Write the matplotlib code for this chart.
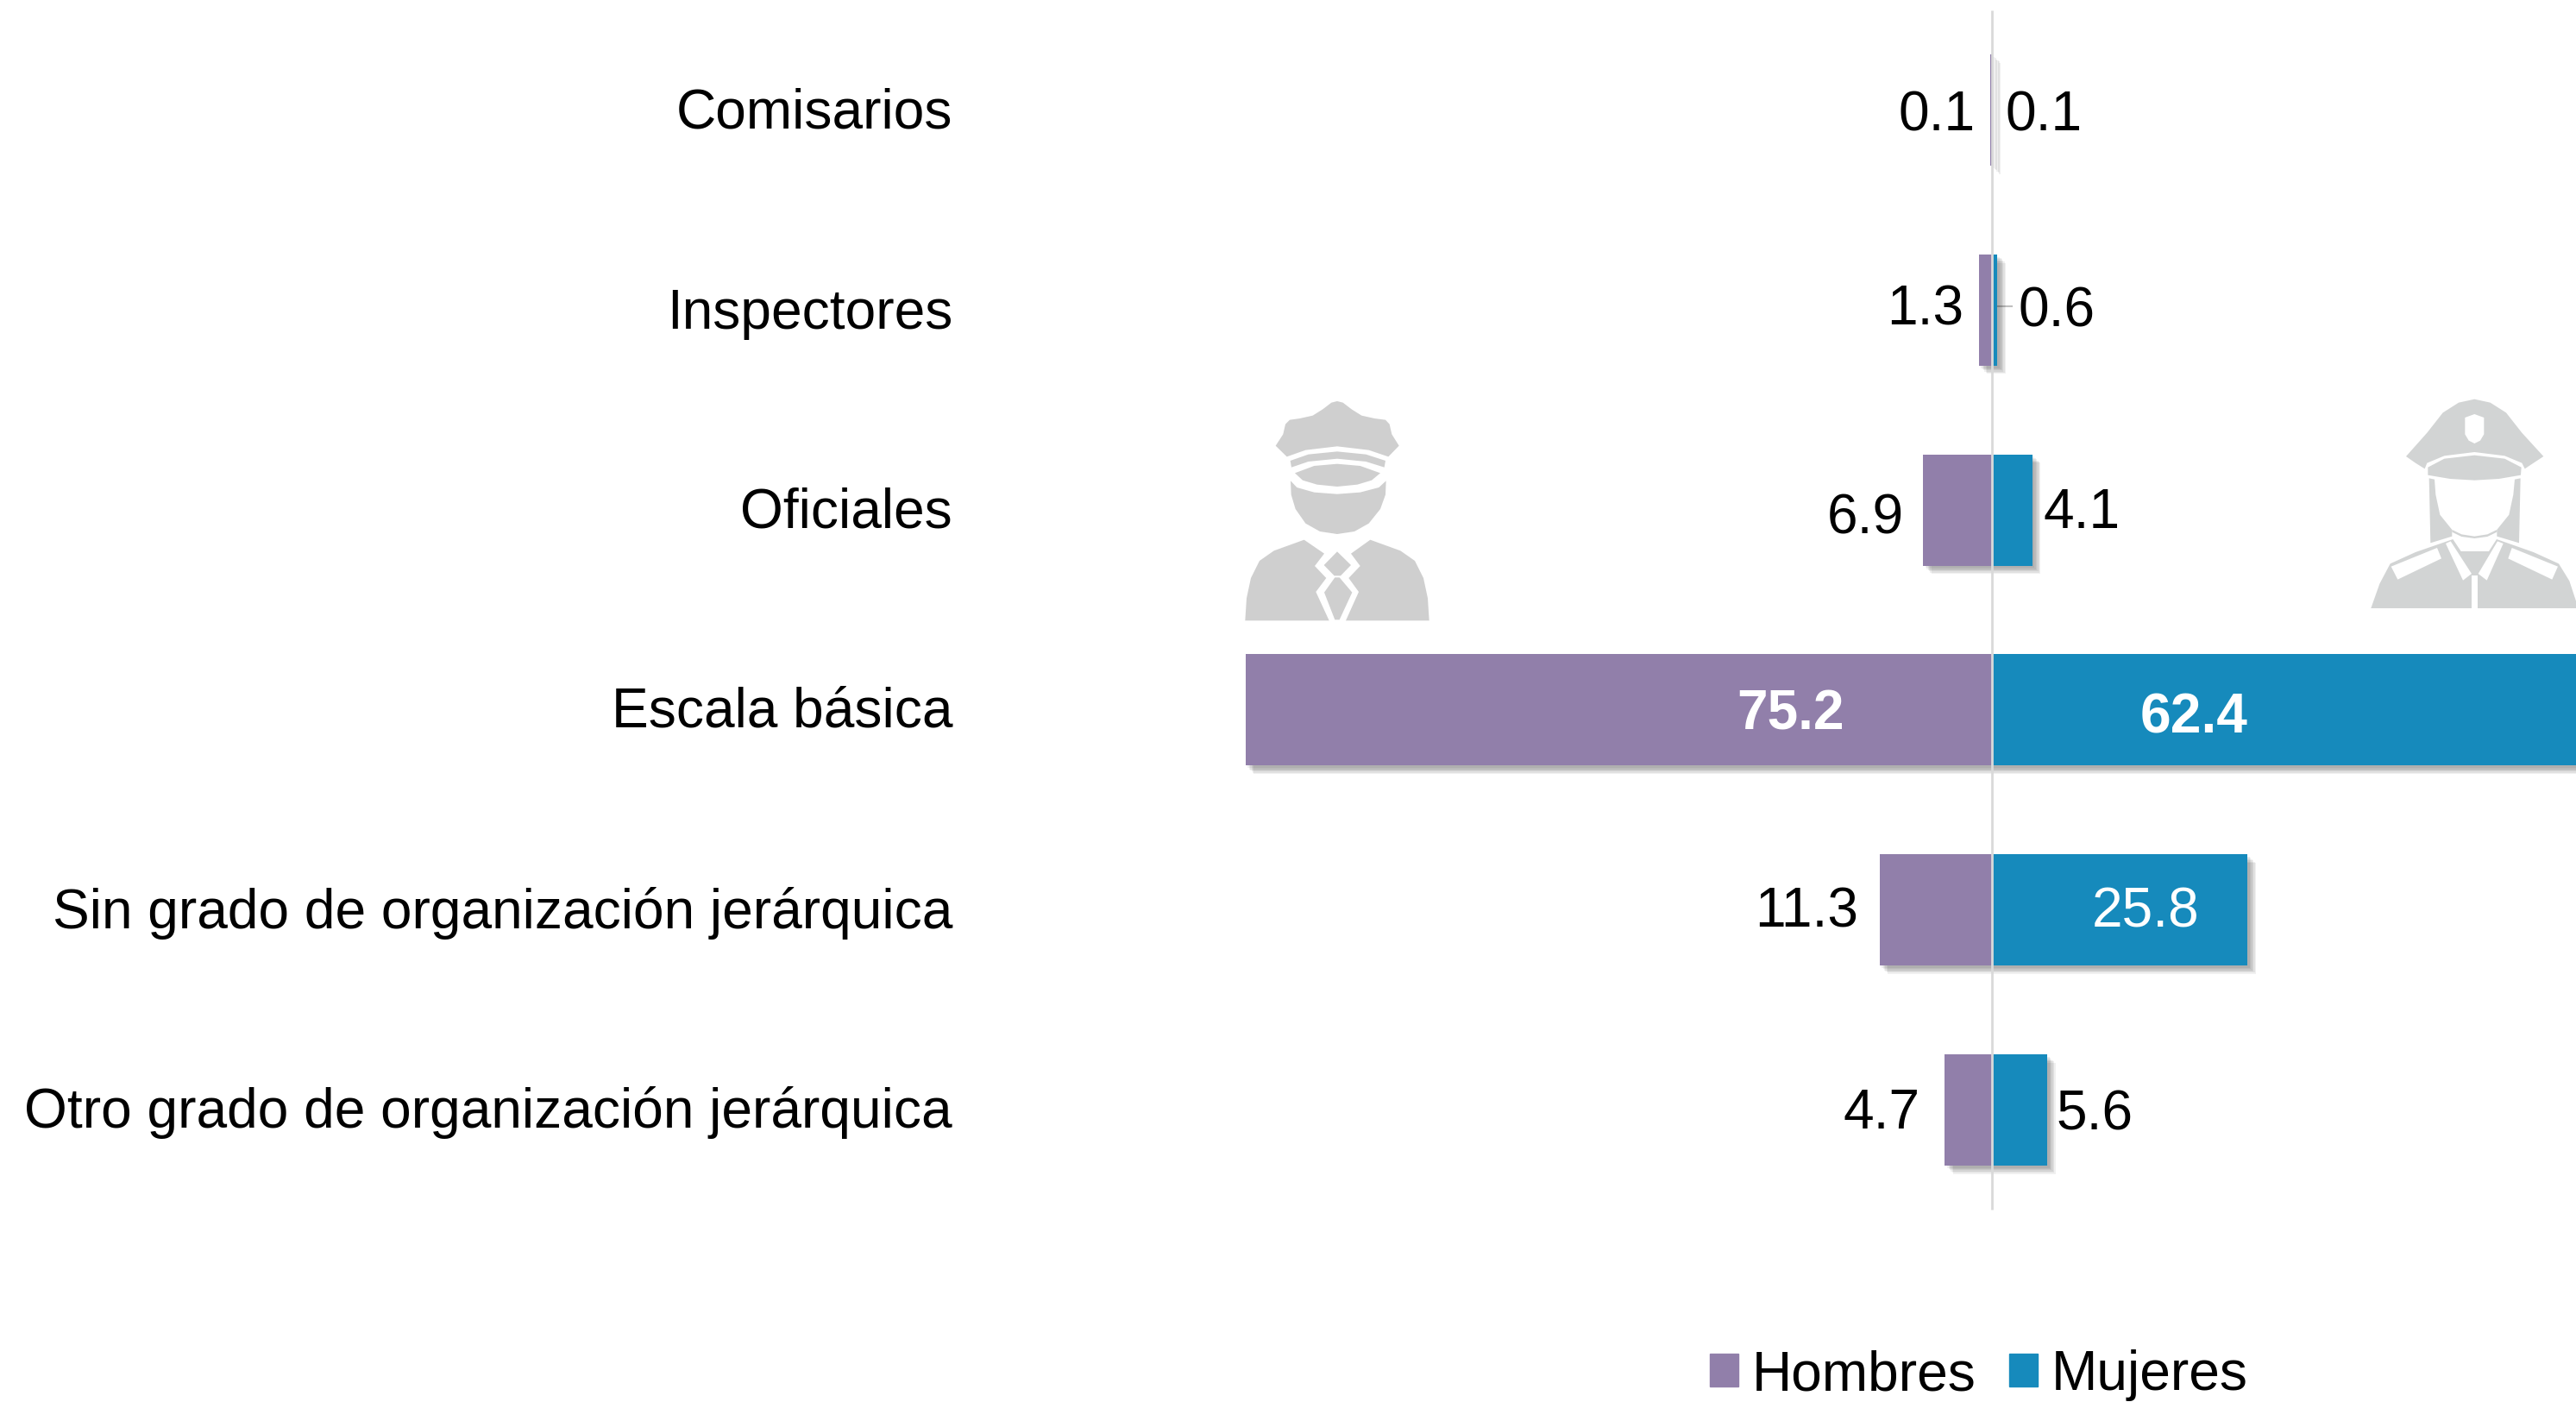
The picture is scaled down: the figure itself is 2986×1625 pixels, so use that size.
import matplotlib
matplotlib.use('Agg')
import matplotlib.pyplot as plt
import matplotlib.patheffects as pe
from matplotlib.patches import Patch, Polygon
from matplotlib.transforms import Affine2D

# data
categorias = ['Comisarios', 'Inspectores', 'Oficiales', 'Escala básica',
              'Sin grado de organización jerárquica',
              'Otro grado de organización jerárquica']
hombres = [0.1, 1.3, 6.9, 75.2, 11.3, 4.7]
mujeres = [0.1, 0.6, 4.1, 62.4, 25.8, 5.6]

W, H = 2986, 1625
PURPLE = '#917FAA'
BLUE = '#168ABC'
GRID = '#D9D9D9'
FS = 46.1

# label offsets in pixels from the end of each bar
h_dx = [-18, -17, -22, 632, -24, -29]
h_dy = [-7, 0, -10, -6, -3, -4]
h_ha = ['right', 'right', 'right', 'center', 'right', 'right']
m_dx = [15, 24, 13, -483, -118, 11]
m_dy = [-7, -2, -4, -10, -3, -6]
m_ha = ['left', 'left', 'left', 'center', 'center', 'left']
cat_dy = [2, 3, 1, 1, 2, 1]

plt.rcParams['font.family'] = ['Liberation Sans', 'DejaVu Sans']

fig = plt.figure(figsize=(W / 100, H / 100), dpi=100)
ax = fig.add_axes([0, 0, 1, 1])

# 0 sits at x=2308.5, 11.5 px per unit, rows are 231.8 px apart
ax.set_xlim(-2308.5 / 11.5, (W - 2308.5) / 11.5)
ax.set_ylim((H - 127.5) / 231.8, -127.5 / 231.8)
ax.axis('off')

y = list(range(len(categorias)))
shadow = [pe.SimplePatchShadow(offset=(o, -o), shadow_rgbFace='black', alpha=0.06)
          for o in (7.0, 6.0, 5.0, 4.0, 3.0, 2.0)] + [pe.Normal()]

ax.barh(y, [-v for v in hombres], height=0.556, color=PURPLE, path_effects=shadow, zorder=2)
ax.barh(y, mujeres, height=0.556, color=BLUE, path_effects=shadow, zorder=3)
ax.plot([0, 0], [-0.5, 5.5], color=GRID, lw=2, zorder=4, solid_capstyle='butt')

# leader line of the 0.6 label
ax.plot([0.6, 2.0], [0.98, 0.98], color='#BFBFBF', lw=1.5, zorder=1)

for i, cat in enumerate(categorias):
    ax.annotate(cat, xy=(0, i), xycoords='data', xytext=(1104 - 2308.5, -cat_dy[i] - 2),
                textcoords='offset pixels', ha='right', va='center', fontsize=FS, color='black')

for i, v in enumerate(hombres):
    inside = h_ha[i] == 'center'
    ax.annotate(f'{v:.1f}', xy=(-v, i), xytext=(h_dx[i], h_dy[i]), textcoords='offset pixels',
                ha=h_ha[i], va='center', fontsize=FS, zorder=5, annotation_clip=False,
                color='white' if inside else 'black',
                fontweight='bold' if inside else 'normal')

for i, v in enumerate(mujeres):
    inside = m_ha[i] == 'center'
    ax.annotate(f'{v:.1f}', xy=(v, i), xytext=(m_dx[i], m_dy[i]), textcoords='offset pixels',
                ha=m_ha[i], va='center', fontsize=FS, zorder=5, annotation_clip=False,
                color='white' if inside else 'black',
                fontweight='bold' if v > 50 else 'normal')

handles = [Patch(color=PURPLE, label='Hombres'), Patch(color=BLUE, label='Mujeres')]
fig.legend(handles=handles, loc='center', bbox_to_anchor=(2294 / W, 1 - 1594 / H), ncol=2,
           frameon=False, fontsize=FS, borderpad=0, handlelength=0.51, handleheight=0.53,
           handletextpad=0.25, columnspacing=0.61)


# icons, outlined in pixels of a 3x crop of the picture
def icon(points, ox, oy, color):
    px = [(ox + a / 3, oy + b / 3) for a, b in points]
    tr = Affine2D().scale(1 / W, -1 / H).translate(0, 1) + fig.transFigure
    fig.add_artist(Polygon(px, closed=True, fc=color, ec='none', transform=tr))


GRAY1 = '#CFCFCF'
man = [
    [(450, 75), (430, 80), (400, 103), (365, 125), (320, 135), (285, 140), (270, 155), (262, 190),
     (236, 230), (275, 268), (340, 245), (450, 232), (560, 245), (628, 268), (665, 230), (640, 190),
     (632, 155), (618, 140), (580, 135), (535, 125), (500, 103), (470, 80)],
    [(287, 282), (350, 260), (450, 250), (550, 260), (618, 282), (614, 305), (550, 285), (450, 275),
     (350, 285), (291, 305)],
    [(303, 325), (370, 300), (450, 293), (530, 300), (600, 325), (570, 350), (520, 365), (450, 372),
     (380, 365), (330, 350)],
    [(288, 352), (310, 375), (370, 392), (450, 398), (530, 392), (595, 375), (620, 352), (618, 400),
     (600, 450), (560, 500), (510, 528), (450, 537), (390, 528), (340, 500), (305, 450), (290, 400)],
    [(335, 557), (405, 605), (372, 648), (412, 690), (376, 738), (422, 838), (130, 838), (135, 760),
     (150, 690), (180, 630), (230, 595)],
    [(565, 557), (498, 605), (530, 648), (490, 690), (525, 738), (480, 838), (770, 838), (765, 760),
     (750, 690), (720, 630), (670, 595)],
    [(450, 598), (498, 645), (462, 682), (440, 682), (404, 645)],
    [(442, 688), (458, 688), (502, 740), (458, 835), (442, 835), (405, 740)],
]
for shape in man:
    icon(shape, 1400, 440, GRAY1)

GRAY2 = '#D2D4D4'
woman = [
    [(445, 68), (390, 80), (335, 115), (280, 185), (207, 267), (240, 290), (272, 310), (280, 290),
     (340, 265), (445, 252), (550, 265), (610, 290), (620, 310), (650, 290), (685, 267), (610, 185),
     (555, 115), (500, 80)],
    [(283, 305), (340, 275), (445, 263), (550, 275), (608, 305), (606, 332), (530, 345), (445, 350),
     (360, 345), (283, 332)],
    [(287, 343), (306, 347), (310, 400), (325, 470), (367, 522), (367, 545), (292, 568)],
    [(605, 343), (585, 347), (580, 400), (565, 470), (523, 522), (523, 545), (600, 568)],
    [(367, 522), (400, 538), (445, 545), (490, 538), (523, 522), (523, 530), (490, 546), (445, 552),
     (400, 546), (367, 530)],
    [(85, 795), (115, 710), (152, 640), (240, 600), (370, 555), (398, 597), (495, 597), (522, 555),
     (650, 600), (738, 640), (775, 700), (798, 770), (798, 795)],
]
for shape in woman:
    icon(shape, 2720, 440, GRAY2)
woman_cut = [
    [(445, 120), (412, 132), (412, 190), (425, 212), (445, 222), (465, 212), (478, 190), (478, 132)],
    [(155, 650), (315, 585), (330, 622), (178, 695)],
    [(735, 650), (575, 585), (562, 622), (715, 695)],
    [(345, 570), (362, 562), (435, 675), (405, 698)],
    [(545, 570), (525, 562), (458, 675), (488, 698)],
    [(436, 680), (455, 680), (455, 795), (436, 795)],
]
for shape in woman_cut:
    icon(shape, 2720, 440, 'white')

fig.savefig('out.png', dpi=100, facecolor='white')
